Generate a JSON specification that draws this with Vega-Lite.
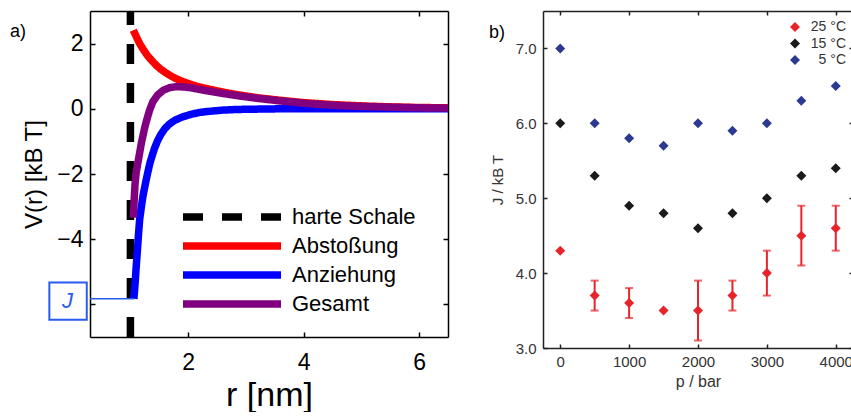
{
  "$schema": "https://vega.github.io/schema/vega-lite/v6.json",
  "background": "white",
  "padding": {"left": 10, "top": 10, "right": 0, "bottom": 0},
  "config": {
    "view": {"stroke": null},
    "font": "Liberation Sans",
    "axis": {"grid": false, "domainColor": "black", "tickColor": "black", "domainWidth": 1.5, "tickWidth": 1.5, "labelColor": "black", "titleColor": "black", "titleFontWeight": "normal"}
  },
  "resolve": {"scale": {"color": "independent", "strokeDash": "independent", "x": "independent", "y": "independent"}, "legend": {"color": "independent", "strokeDash": "independent"}},
  "datasets": {
    "curves": [
      {"s": "harte Schale", "i": 0, "r": 1.0, "v": -7},
      {"s": "harte Schale", "i": 1, "r": 1.0, "v": 3},
      {"s": "Abstoßung", "i": 0, "r": 1.05, "v": 2.41},
      {"s": "Abstoßung", "i": 1, "r": 1.1, "v": 2.22},
      {"s": "Abstoßung", "i": 2, "r": 1.16, "v": 2.0},
      {"s": "Abstoßung", "i": 3, "r": 1.23, "v": 1.8},
      {"s": "Abstoßung", "i": 4, "r": 1.3, "v": 1.62},
      {"s": "Abstoßung", "i": 5, "r": 1.38, "v": 1.46},
      {"s": "Abstoßung", "i": 6, "r": 1.45, "v": 1.33},
      {"s": "Abstoßung", "i": 7, "r": 1.52, "v": 1.22},
      {"s": "Abstoßung", "i": 8, "r": 1.6, "v": 1.12},
      {"s": "Abstoßung", "i": 9, "r": 1.67, "v": 1.04},
      {"s": "Abstoßung", "i": 10, "r": 1.74, "v": 0.97},
      {"s": "Abstoßung", "i": 11, "r": 1.82, "v": 0.9},
      {"s": "Abstoßung", "i": 12, "r": 1.9, "v": 0.84},
      {"s": "Abstoßung", "i": 13, "r": 2.03, "v": 0.76},
      {"s": "Abstoßung", "i": 14, "r": 2.15, "v": 0.69},
      {"s": "Abstoßung", "i": 15, "r": 2.32, "v": 0.62},
      {"s": "Abstoßung", "i": 16, "r": 2.5, "v": 0.55},
      {"s": "Abstoßung", "i": 17, "r": 2.7, "v": 0.48},
      {"s": "Abstoßung", "i": 18, "r": 2.9, "v": 0.42},
      {"s": "Abstoßung", "i": 19, "r": 3.2, "v": 0.34},
      {"s": "Abstoßung", "i": 20, "r": 3.6, "v": 0.26},
      {"s": "Abstoßung", "i": 21, "r": 4.0, "v": 0.19},
      {"s": "Abstoßung", "i": 22, "r": 4.5, "v": 0.13},
      {"s": "Abstoßung", "i": 23, "r": 5.0, "v": 0.09},
      {"s": "Abstoßung", "i": 24, "r": 5.5, "v": 0.06},
      {"s": "Abstoßung", "i": 25, "r": 6.0, "v": 0.04},
      {"s": "Abstoßung", "i": 26, "r": 6.5, "v": 0.03},
      {"s": "Anziehung", "i": 0, "r": 1.06, "v": -5.83},
      {"s": "Anziehung", "i": 1, "r": 1.08, "v": -5.38},
      {"s": "Anziehung", "i": 2, "r": 1.1, "v": -4.85},
      {"s": "Anziehung", "i": 3, "r": 1.12, "v": -4.36},
      {"s": "Anziehung", "i": 4, "r": 1.14, "v": -3.85},
      {"s": "Anziehung", "i": 5, "r": 1.16, "v": -3.4},
      {"s": "Anziehung", "i": 6, "r": 1.19, "v": -3.0},
      {"s": "Anziehung", "i": 7, "r": 1.22, "v": -2.65},
      {"s": "Anziehung", "i": 8, "r": 1.25, "v": -2.38},
      {"s": "Anziehung", "i": 9, "r": 1.28, "v": -2.12},
      {"s": "Anziehung", "i": 10, "r": 1.31, "v": -1.88},
      {"s": "Anziehung", "i": 11, "r": 1.34, "v": -1.65},
      {"s": "Anziehung", "i": 12, "r": 1.38, "v": -1.42},
      {"s": "Anziehung", "i": 13, "r": 1.42, "v": -1.2},
      {"s": "Anziehung", "i": 14, "r": 1.47, "v": -0.98},
      {"s": "Anziehung", "i": 15, "r": 1.53, "v": -0.78},
      {"s": "Anziehung", "i": 16, "r": 1.6, "v": -0.6},
      {"s": "Anziehung", "i": 17, "r": 1.68, "v": -0.46},
      {"s": "Anziehung", "i": 18, "r": 1.77, "v": -0.35},
      {"s": "Anziehung", "i": 19, "r": 1.9, "v": -0.25},
      {"s": "Anziehung", "i": 20, "r": 2.05, "v": -0.17},
      {"s": "Anziehung", "i": 21, "r": 2.2, "v": -0.11},
      {"s": "Anziehung", "i": 22, "r": 2.35, "v": -0.08},
      {"s": "Anziehung", "i": 23, "r": 2.6, "v": -0.04},
      {"s": "Anziehung", "i": 24, "r": 2.85, "v": -0.02},
      {"s": "Anziehung", "i": 25, "r": 3.2, "v": -0.01},
      {"s": "Anziehung", "i": 26, "r": 3.6, "v": 0},
      {"s": "Anziehung", "i": 27, "r": 4.5, "v": 0},
      {"s": "Anziehung", "i": 28, "r": 5.5, "v": 0},
      {"s": "Anziehung", "i": 29, "r": 6.5, "v": 0},
      {"s": "Gesamt", "i": 0, "r": 1.05, "v": -3.34},
      {"s": "Gesamt", "i": 1, "r": 1.065, "v": -2.8},
      {"s": "Gesamt", "i": 2, "r": 1.08, "v": -2.31},
      {"s": "Gesamt", "i": 3, "r": 1.1, "v": -1.95},
      {"s": "Gesamt", "i": 4, "r": 1.13, "v": -1.65},
      {"s": "Gesamt", "i": 5, "r": 1.16, "v": -1.35},
      {"s": "Gesamt", "i": 6, "r": 1.19, "v": -1.05},
      {"s": "Gesamt", "i": 7, "r": 1.22, "v": -0.8},
      {"s": "Gesamt", "i": 8, "r": 1.25, "v": -0.56},
      {"s": "Gesamt", "i": 9, "r": 1.28, "v": -0.36},
      {"s": "Gesamt", "i": 10, "r": 1.33, "v": -0.05},
      {"s": "Gesamt", "i": 11, "r": 1.39, "v": 0.22},
      {"s": "Gesamt", "i": 12, "r": 1.47, "v": 0.42},
      {"s": "Gesamt", "i": 13, "r": 1.57, "v": 0.57},
      {"s": "Gesamt", "i": 14, "r": 1.68, "v": 0.65},
      {"s": "Gesamt", "i": 15, "r": 1.8, "v": 0.68},
      {"s": "Gesamt", "i": 16, "r": 1.92, "v": 0.67},
      {"s": "Gesamt", "i": 17, "r": 2.03, "v": 0.65},
      {"s": "Gesamt", "i": 18, "r": 2.3, "v": 0.56},
      {"s": "Gesamt", "i": 19, "r": 2.6, "v": 0.47},
      {"s": "Gesamt", "i": 20, "r": 2.9, "v": 0.39},
      {"s": "Gesamt", "i": 21, "r": 3.2, "v": 0.32},
      {"s": "Gesamt", "i": 22, "r": 3.6, "v": 0.24},
      {"s": "Gesamt", "i": 23, "r": 4.0, "v": 0.17},
      {"s": "Gesamt", "i": 24, "r": 4.5, "v": 0.11},
      {"s": "Gesamt", "i": 25, "r": 5.0, "v": 0.07},
      {"s": "Gesamt", "i": 26, "r": 5.5, "v": 0.05},
      {"s": "Gesamt", "i": 27, "r": 6.0, "v": 0.03},
      {"s": "Gesamt", "i": 28, "r": 6.5, "v": 0.02}
    ],
    "jline": [
      {"r": 0.3, "v": -5.83},
      {"r": 1.07, "v": -5.83}
    ],
    "pressure": [
      {"T": "25 °C", "p": 0, "J": 4.3},
      {"T": "25 °C", "p": 500, "J": 3.7, "lo": 3.5, "hi": 3.9},
      {"T": "25 °C", "p": 1000, "J": 3.6, "lo": 3.4, "hi": 3.8},
      {"T": "25 °C", "p": 1500, "J": 3.5},
      {"T": "25 °C", "p": 2000, "J": 3.5, "lo": 3.1, "hi": 3.9},
      {"T": "25 °C", "p": 2500, "J": 3.7, "lo": 3.5, "hi": 3.9},
      {"T": "25 °C", "p": 3000, "J": 4.0, "lo": 3.7, "hi": 4.3},
      {"T": "25 °C", "p": 3500, "J": 4.5, "lo": 4.1, "hi": 4.9},
      {"T": "25 °C", "p": 4000, "J": 4.6, "lo": 4.3, "hi": 4.9},
      {"T": "15 °C", "p": 0, "J": 6.0},
      {"T": "15 °C", "p": 500, "J": 5.3},
      {"T": "15 °C", "p": 1000, "J": 4.9},
      {"T": "15 °C", "p": 1500, "J": 4.8},
      {"T": "15 °C", "p": 2000, "J": 4.6},
      {"T": "15 °C", "p": 2500, "J": 4.8},
      {"T": "15 °C", "p": 3000, "J": 5.0},
      {"T": "15 °C", "p": 3500, "J": 5.3},
      {"T": "15 °C", "p": 4000, "J": 5.4},
      {"T": "5 °C", "p": 0, "J": 7.0},
      {"T": "5 °C", "p": 500, "J": 6.0},
      {"T": "5 °C", "p": 1000, "J": 5.8},
      {"T": "5 °C", "p": 1500, "J": 5.7},
      {"T": "5 °C", "p": 2000, "J": 6.0},
      {"T": "5 °C", "p": 2500, "J": 5.9},
      {"T": "5 °C", "p": 3000, "J": 6.0},
      {"T": "5 °C", "p": 3500, "J": 6.3},
      {"T": "5 °C", "p": 4000, "J": 6.5}
    ]
  },
  "spacing": 40,
  "hconcat": [
    {
      "width": 358,
      "height": 326,
      "resolve": {"axis": {"x": "independent", "y": "independent"}},
      "layer": [
        {
          "data": {"name": "curves"},
          "mark": {"type": "line", "strokeWidth": 7.5, "strokeCap": "butt", "clip": true},
          "encoding": {
            "x": {"field": "r", "type": "quantitative", "scale": {"domain": [0.3, 6.5], "nice": false, "zero": false},
              "axis": {"orient": "bottom", "values": [2, 4, 6], "tickSize": -5, "labelFontSize": 23, "labelPadding": 19, "title": "r [nm]", "titleFontSize": 34, "titlePadding": 4}},
            "y": {"field": "v", "type": "quantitative", "scale": {"domain": [-7, 3], "nice": false, "zero": false},
              "axis": {"orient": "left", "values": [-6, -4, -2, 0, 2], "labelExpr": "datum.value == -6 ? '' : datum.label", "tickSize": -5, "labelFontSize": 23, "labelPadding": 12, "title": "V(r) [kB T]", "titleFontSize": 24, "titlePadding": 10}},
            "color": {"field": "s", "type": "nominal",
              "scale": {"domain": ["harte Schale", "Abstoßung", "Anziehung", "Gesamt"], "range": ["#000000", "#ff0000", "#0000ff", "#800080"]},
              "legend": {"orient": "none", "legendX": 128, "legendY": 192, "title": null, "symbolType": "M-5,0H5", "symbolSize": 384, "symbolStrokeWidth": 7.5, "labelFontSize": 22, "labelOffset": 46, "rowPadding": -2.6, "padding": 0, "labelColor": "black"}},
            "strokeDash": {"field": "s", "type": "nominal",
              "scale": {"domain": ["harte Schale", "Abstoßung", "Anziehung", "Gesamt"], "range": [[20, 19], [1, 0], [1, 0], [1, 0]]},
              "legend": {"orient": "none", "legendX": 128, "legendY": 192, "title": null, "symbolType": "M-5,0H5", "symbolSize": 384, "symbolStrokeWidth": 7.5, "labelFontSize": 22, "labelOffset": 46, "rowPadding": -2.6, "padding": 0, "labelColor": "black"}},
            "order": {"field": "i", "type": "quantitative"}
          }
        },
        {
          "data": {"name": "jline"},
          "mark": {"type": "line", "color": "#2a5bf0", "strokeWidth": 1.5},
          "encoding": {
            "x": {"field": "r", "type": "quantitative", "axis": null},
            "y": {"field": "v", "type": "quantitative", "axis": null}
          }
        },
        {
          "data": {"values": [{}]},
          "mark": {"type": "point", "shape": "square", "filled": false, "size": 1400, "stroke": "#2a5bf0", "strokeWidth": 2, "opacity": 1},
          "encoding": {
            "x": {"datum": -0.08, "type": "quantitative", "axis": null},
            "y": {"datum": -5.9, "type": "quantitative", "axis": null}
          }
        },
        {
          "data": {"values": [{}]},
          "mark": {"type": "text", "text": "J", "fontStyle": "italic", "fontSize": 22, "color": "#2a5bf0", "align": "center", "baseline": "middle"},
          "encoding": {
            "x": {"datum": -0.09, "type": "quantitative", "axis": null},
            "y": {"datum": -5.9, "type": "quantitative", "axis": null}
          }
        },
        {
          "data": {"values": [{}]},
          "mark": {"type": "text", "text": "a)", "fontSize": 18, "color": "black", "align": "left", "baseline": "middle"},
          "encoding": {
            "x": {"datum": -1.085, "type": "quantitative", "axis": null},
            "y": {"datum": 2.35, "type": "quantitative", "axis": null}
          }
        },
        {
          "data": {"name": "jline"},
          "mark": {"type": "point", "opacity": 0},
          "encoding": {
            "x": {"field": "r", "type": "quantitative", "axis": {"orient": "top", "values": [2, 4, 6], "tickSize": -5, "labels": false, "title": null}},
            "y": {"field": "v", "type": "quantitative", "axis": {"orient": "right", "values": [-6, -4, -2, 0, 2], "tickSize": -5, "labels": false, "title": null}}
          }
        }
      ]
    },
    {
      "width": 310,
      "height": 337,
      "resolve": {"axis": {"x": "independent", "y": "independent"}},
      "layer": [
        {
          "data": {"name": "pressure"},
          "transform": [{"filter": "isValid(datum.lo)"}],
          "mark": {"type": "rule", "color": "#e8242b", "strokeWidth": 2},
          "encoding": {
            "x": {"field": "p", "type": "quantitative", "scale": {"domain": [-250, 4250], "nice": false, "zero": false},
              "axis": {"orient": "bottom", "values": [0, 1000, 2000, 3000, 4000], "format": "d", "tickSize": -4, "labelFontSize": 15, "labelColor": "#333333", "labelPadding": 10, "title": "p  / bar", "titleFontSize": 16, "titleColor": "#333333", "titlePadding": 4, "domainColor": "#222222", "tickColor": "#222222"}},
            "y": {"field": "lo", "type": "quantitative", "scale": {"domain": [3, 7.5], "nice": false, "zero": false},
              "axis": {"orient": "left", "values": [3, 4, 5, 6, 7], "format": ".1f", "tickSize": -4, "labelFontSize": 15, "labelColor": "#333333", "labelPadding": 11, "title": "J / kB T", "titleFontSize": 15, "titleColor": "#333333", "titlePadding": 10, "domainColor": "#222222", "tickColor": "#222222"}},
            "y2": {"field": "hi"}
          }
        },
        {
          "data": {"name": "pressure"},
          "transform": [{"filter": "isValid(datum.lo)"}],
          "mark": {"type": "tick", "orient": "horizontal", "color": "#e8242b", "size": 8, "thickness": 2},
          "encoding": {
            "x": {"field": "p", "type": "quantitative", "axis": null},
            "y": {"field": "lo", "type": "quantitative", "axis": null}
          }
        },
        {
          "data": {"name": "pressure"},
          "transform": [{"filter": "isValid(datum.hi)"}],
          "mark": {"type": "tick", "orient": "horizontal", "color": "#e8242b", "size": 8, "thickness": 2},
          "encoding": {
            "x": {"field": "p", "type": "quantitative", "axis": null},
            "y": {"field": "hi", "type": "quantitative", "axis": null}
          }
        },
        {
          "data": {"name": "pressure"},
          "mark": {"type": "point", "shape": "diamond", "filled": true, "size": 100, "opacity": 1},
          "encoding": {
            "x": {"field": "p", "type": "quantitative", "axis": null},
            "y": {"field": "J", "type": "quantitative", "axis": null},
            "color": {"field": "T", "type": "nominal",
              "scale": {"domain": ["25 °C", "15 °C", "5 °C"], "range": ["#e8242b", "#1a1a1a", "#2c3991"]},
              "legend": {"orient": "none", "legendX": 245, "legendY": 9, "title": null, "symbolType": "diamond", "symbolSize": 100, "symbolStrokeWidth": 0, "symbolOpacity": 1, "labelFontSize": 14, "labelOffset": 44, "labelAlign": "right", "rowPadding": 2.5, "padding": 0, "labelColor": "#333333"}}
          }
        },
        {
          "data": {"values": [{}]},
          "mark": {"type": "text", "text": "b)", "fontSize": 18, "color": "black", "align": "left", "baseline": "middle"},
          "encoding": {
            "x": {"datum": -1033, "type": "quantitative", "axis": null},
            "y": {"datum": 7.2, "type": "quantitative", "axis": null}
          }
        },
        {
          "data": {"name": "pressure"},
          "mark": {"type": "point", "opacity": 0},
          "encoding": {
            "x": {"field": "p", "type": "quantitative", "axis": {"orient": "top", "values": [0, 1000, 2000, 3000, 4000], "tickSize": -4, "labels": false, "title": null, "domainColor": "#222222", "tickColor": "#222222"}},
            "y": {"field": "J", "type": "quantitative", "axis": {"orient": "right", "values": [3, 4, 5, 6, 7], "tickSize": -4, "labels": false, "title": null, "domainColor": "#222222", "tickColor": "#222222"}}
          }
        }
      ]
    }
  ]
}
